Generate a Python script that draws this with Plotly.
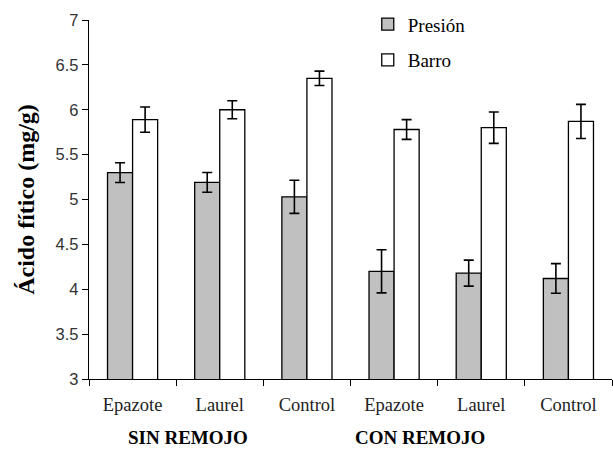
import plotly.graph_objects as go

categories = ["Epazote", "Laurel", "Control", "Epazote", "Laurel", "Control"]
groups = ["SIN REMOJO", "CON REMOJO"]
presion = [5.30, 5.19, 5.03, 4.20, 4.18, 4.12]
presion_err = [0.11, 0.11, 0.185, 0.24, 0.145, 0.165]
barro = [5.89, 6.00, 6.35, 5.78, 5.80, 5.87]
barro_err = [0.14, 0.10, 0.08, 0.11, 0.175, 0.19]
yticks = [3, 3.5, 4, 4.5, 5, 5.5, 6, 6.5, 7]

xpos = list(range(len(categories)))
serif = "Liberation Serif"

fig = go.Figure()
fig.add_trace(go.Bar(
    x=xpos, y=presion, name="Presión",
    marker=dict(color="#c0c0c0", line=dict(color="black", width=1.3)),
    error_y=dict(type="data", array=presion_err, color="black", thickness=1.6, width=5),
    legendgroup="a",
))
fig.add_trace(go.Bar(
    x=xpos, y=barro, name="Barro",
    marker=dict(color="white", line=dict(color="black", width=1.3)),
    error_y=dict(type="data", array=barro_err, color="black", thickness=1.6, width=5),
    legendgroup="b",
))

fig.update_layout(
    width=613, height=449,
    margin=dict(l=89, r=1, t=20, b=70),
    plot_bgcolor="white", paper_bgcolor="white",
    barmode="group", bargap=0.425, bargroupgap=0,
    showlegend=True,
    legend=dict(x=0.533, y=1.041, xanchor="left", yanchor="top",
                font=dict(family=serif, size=19, color="black"),
                bgcolor="rgba(0,0,0,0)", tracegroupgap=8,
                itemwidth=30),
    xaxis=dict(
        range=[-0.5, 5.5],
        tickmode="array", tickvals=xpos, ticktext=categories,
        ticks="outside", ticklen=9, tickcolor="rgba(0,0,0,0)",
        tickfont=dict(family=serif, size=18.5, color="#222"),
        showline=True, linecolor="black", linewidth=1.3,
        showgrid=False, zeroline=False,
        minor=dict(tickmode="array", tickvals=[i - 0.5 for i in range(len(categories) + 1)],
                   ticks="outside", ticklen=6, tickcolor="black", tickwidth=1.3, showgrid=False),
    ),
    yaxis=dict(
        range=[3, 7],
        tickmode="array", tickvals=yticks, ticktext=[f"{v:g}" for v in yticks],
        ticks="outside", ticklen=6, tickcolor="black", tickwidth=1.3,
        tickfont=dict(family="Liberation Sans", size=16.5, color="#333"),
        showline=True, linecolor="black", linewidth=1.3,
        showgrid=False, zeroline=False,
        title=dict(text="<b>Ácido fítico (mg/g)</b>",
                   font=dict(family=serif, size=24, color="black"), standoff=14),
    ),
    annotations=[
        dict(text=f"<b>{groups[0]}</b>", x=0.189, y=-0.162, xref="paper", yref="paper",
             xanchor="center", yanchor="middle", borderpad=0,
             showarrow=False, font=dict(family=serif, size=19, color="black")),
        dict(text=f"<b>{groups[1]}</b>", x=0.633, y=-0.162, xref="paper", yref="paper",
             xanchor="center", yanchor="middle", borderpad=0,
             showarrow=False, font=dict(family=serif, size=19, color="black")),
    ],
)

fig.write_html("out.html")
